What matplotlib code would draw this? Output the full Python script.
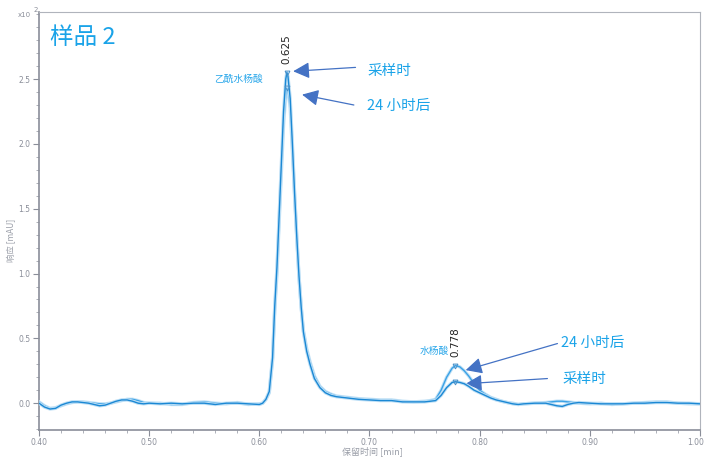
import matplotlib
matplotlib.use("Agg")
import matplotlib.pyplot as plt
import matplotlib.patheffects as pe
import matplotlib.transforms as mtransforms
from matplotlib.ticker import MultipleLocator, FormatStrFormatter

plt.rcParams['font.family'] = ['Noto Sans CJK SC', 'DejaVu Sans']

# retention time [min]
time = [0.400, 0.405, 0.410, 0.415, 0.420, 0.425, 0.430, 0.435, 0.440, 0.445,
        0.450, 0.455, 0.460, 0.465, 0.470, 0.475, 0.480, 0.485, 0.490, 0.495,
        0.500, 0.510, 0.520, 0.530, 0.540, 0.550, 0.560, 0.570, 0.580, 0.590,
        0.600, 0.603, 0.606, 0.609, 0.612, 0.614, 0.616, 0.618, 0.620, 0.622,
        0.624, 0.625, 0.626, 0.628, 0.630, 0.632, 0.634, 0.636, 0.638, 0.640,
        0.643, 0.646, 0.650, 0.655, 0.660, 0.665, 0.670, 0.680, 0.690, 0.700,
        0.710, 0.720, 0.730, 0.740, 0.750, 0.755, 0.760, 0.765, 0.770, 0.775,
        0.778, 0.782, 0.786, 0.790, 0.795, 0.800, 0.805, 0.810, 0.815, 0.820,
        0.825, 0.830, 0.835, 0.840, 0.850, 0.860, 0.865, 0.870, 0.875, 0.880,
        0.885, 0.890, 0.900, 0.910, 0.920, 0.930, 0.940, 0.950, 0.960, 0.970,
        0.980, 0.990, 1.000]

# response [x10^2 mAU] at sampling time
resp_sampling = [0.000, -0.030, -0.045, -0.040, -0.015, 0.000, 0.010, 0.010, 0.005, 0.000,
                 -0.010, -0.020, -0.015, 0.000, 0.015, 0.025, 0.025, 0.015, 0.000, -0.005,
                 0.000, -0.005, 0.000, -0.005, 0.000, 0.000, -0.010, 0.000, 0.000, -0.005,
                 -0.010, 0.000, 0.030, 0.090, 0.350, 0.750, 1.050, 1.450, 1.850, 2.250,
                 2.500, 2.550, 2.520, 2.350, 2.000, 1.620, 1.280, 0.980, 0.740, 0.550,
                 0.400, 0.300, 0.190, 0.120, 0.080, 0.060, 0.050, 0.040, 0.030, 0.025,
                 0.020, 0.020, 0.010, 0.010, 0.010, 0.015, 0.020, 0.060, 0.120, 0.160,
                 0.165, 0.160, 0.150, 0.130, 0.100, 0.080, 0.060, 0.040, 0.025, 0.015,
                 0.005, -0.005, -0.010, -0.005, 0.000, 0.000, -0.010, -0.020, -0.025, -0.010,
                 0.000, 0.005, 0.000, -0.005, -0.005, -0.005, 0.000, 0.000, 0.005, 0.005,
                 0.000, 0.000, -0.005]

# response [x10^2 mAU] after 24 hours
resp_24h = [0.010, -0.020, -0.040, -0.035, -0.020, -0.005, 0.005, 0.010, 0.010, 0.005,
            0.000, -0.005, -0.005, 0.000, 0.010, 0.020, 0.030, 0.030, 0.020, 0.005,
            0.000, 0.000, -0.010, -0.010, 0.005, 0.010, 0.000, -0.005, 0.005, -0.010,
            -0.005, 0.000, 0.030, 0.080, 0.330, 0.720, 1.000, 1.400, 1.780, 2.150,
            2.380, 2.430, 2.420, 2.280, 1.950, 1.600, 1.270, 0.970, 0.740, 0.560,
            0.420, 0.320, 0.210, 0.130, 0.090, 0.070, 0.055, 0.045, 0.035, 0.030,
            0.025, 0.025, 0.015, 0.010, 0.015, 0.020, 0.030, 0.100, 0.200, 0.270,
            0.290, 0.280, 0.250, 0.210, 0.150, 0.100, 0.070, 0.045, 0.030, 0.015,
            0.005, 0.000, -0.010, -0.005, 0.000, 0.005, 0.010, 0.015, 0.015, 0.010,
            0.005, 0.000, -0.005, 0.000, -0.010, -0.005, 0.000, 0.005, 0.010, 0.010,
            0.000, -0.005, -0.005]

peak_times = [0.625, 0.778]
peak_labels = ["0.625", "0.778"]
peak_sampling = [2.55, 0.165]
peak_24h = [2.43, 0.29]
compound_names = ["乙酰水杨酸", "水杨酸"]
series_names = ["采样时", "24 小时后"]
title = "样品 2"

xticks = [0.40, 0.50, 0.60, 0.70, 0.80, 0.90, 1.00]
yticks = [0.0, 0.5, 1.0, 1.5, 2.0, 2.5]

fig = plt.figure(figsize=(7.05, 4.57), dpi=100)
ax = fig.add_axes([39/705, 1-429.5/457, (700-39)/705, (429.5-12.3)/457])

halo = [pe.Stroke(linewidth=2.4, foreground='#bfe0f6'), pe.Normal()]
ax.plot(time, resp_24h, color='#3ba2e6', lw=1.0, path_effects=halo, zorder=3)
ax.plot(time, resp_sampling, color='#1b88d4', lw=1.0, path_effects=halo, zorder=4)

ax.plot(peak_times, peak_sampling, linestyle='none', marker='v', ms=3.5,
        mfc='none', mec='#4a90c8', mew=0.7, zorder=5)
ax.plot(peak_times, peak_24h, linestyle='none', marker='v', ms=3.5,
        mfc='none', mec='#4a90c8', mew=0.7, zorder=5)

ax.set_xlim(0.40, 1.00)
ax.set_ylim(-0.203, 3.015)
ax.set_xticks(xticks)
ax.set_yticks(yticks)
ax.xaxis.set_major_formatter(FormatStrFormatter('%.2f'))
ax.yaxis.set_major_formatter(FormatStrFormatter('%.1f'))
ax.xaxis.set_minor_locator(MultipleLocator(0.02))
ax.yaxis.set_minor_locator(MultipleLocator(0.1))
ax.tick_params(which='major', direction='out', length=4, width=0.8, color='#8a8e99',
               labelsize=5.5, labelcolor='#8a8e99', pad=2,
               labelfontfamily='DejaVu Sans')
ax.tick_params(which='minor', direction='out', length=2, width=0.6, color='#a0a4ad')
for s in ['left', 'bottom']:
    ax.spines[s].set_color('#8a8e99')
    ax.spines[s].set_linewidth(1.2)
for s in ['top', 'right']:
    ax.spines[s].set_color('#b0b4bc')
    ax.spines[s].set_linewidth(0.8)

# nudge the last x tick label so it stays inside the image
last_lbl = ax.get_xticklabels()[-1]
last_lbl.set_transform(last_lbl.get_transform() +
                       mtransforms.ScaledTranslation(-4/100, 0, fig.dpi_scale_trans))

# axis titles placed as in the reference
fig.text(12/705, 1-240/457, "响应 [mAU]", rotation=90, fontsize=6, color='#9a9ea8',
         ha='center', va='center')
fig.text(372/705, 1-451/457, "保留时间 [min]", fontsize=6.5, color='#9a9ea8',
         ha='center', va='center')

fig.text(18/705, 1-15/457, "x10", fontsize=5, color='#8a8e99', ha='left', va='center',
         family='DejaVu Sans')
fig.text(34/705, 1-10/457, "2", fontsize=5, color='#8a8e99', ha='left', va='center',
         family='DejaVu Sans')

ax.text(50/705, 1-37/457, title, transform=fig.transFigure, fontsize=17,
        color='#1aa3e8', ha='left', va='center')

# peak retention labels
ax.annotate(peak_labels[0], xy=(peak_times[0], peak_sampling[0]), xytext=(0, 6),
            textcoords='offset points', rotation=90, ha='center', va='bottom',
            fontsize=7.5, color='#222222', family='DejaVu Sans')
ax.annotate(peak_labels[1], xy=(peak_times[1], peak_24h[1]), xytext=(0, 6),
            textcoords='offset points', rotation=90, ha='center', va='bottom',
            fontsize=7.5, color='#222222', family='DejaVu Sans')

# compound names
ax.text(0.6035, 2.50, compound_names[0], fontsize=7, color='#2aa7ea', ha='right', va='center')
ax.text(0.7716, 0.40, compound_names[1], fontsize=7, color='#2aa7ea', ha='right', va='center')

arrow_kw = dict(arrowstyle='-|>,head_length=0.9,head_width=0.45', color='#4472c4',
                lw=0.9, shrinkA=0, shrinkB=0, mutation_scale=11)
txt_kw = dict(fontsize=10.5, color='#1aa3e8', ha='left', va='center')

# peak 1 annotations
ax.annotate("", xy=(0.6307, 2.56), xytext=(0.6873, 2.59), arrowprops=arrow_kw)
ax.text(0.6979, 2.56, series_names[0], **txt_kw)
ax.annotate("", xy=(0.6388, 2.38), xytext=(0.6858, 2.30), arrowprops=arrow_kw)
ax.text(0.6979, 2.29, series_names[1], **txt_kw)

# peak 2 annotations
ax.annotate("", xy=(0.7873, 0.255), xytext=(0.8706, 0.46), arrowprops=arrow_kw)
ax.text(0.8736, 0.465, series_names[1], **txt_kw)
ax.annotate("", xy=(0.7873, 0.15), xytext=(0.8615, 0.19), arrowprops=arrow_kw)
ax.text(0.8752, 0.185, series_names[0], **txt_kw)

fig.savefig("out.png", dpi=100)
